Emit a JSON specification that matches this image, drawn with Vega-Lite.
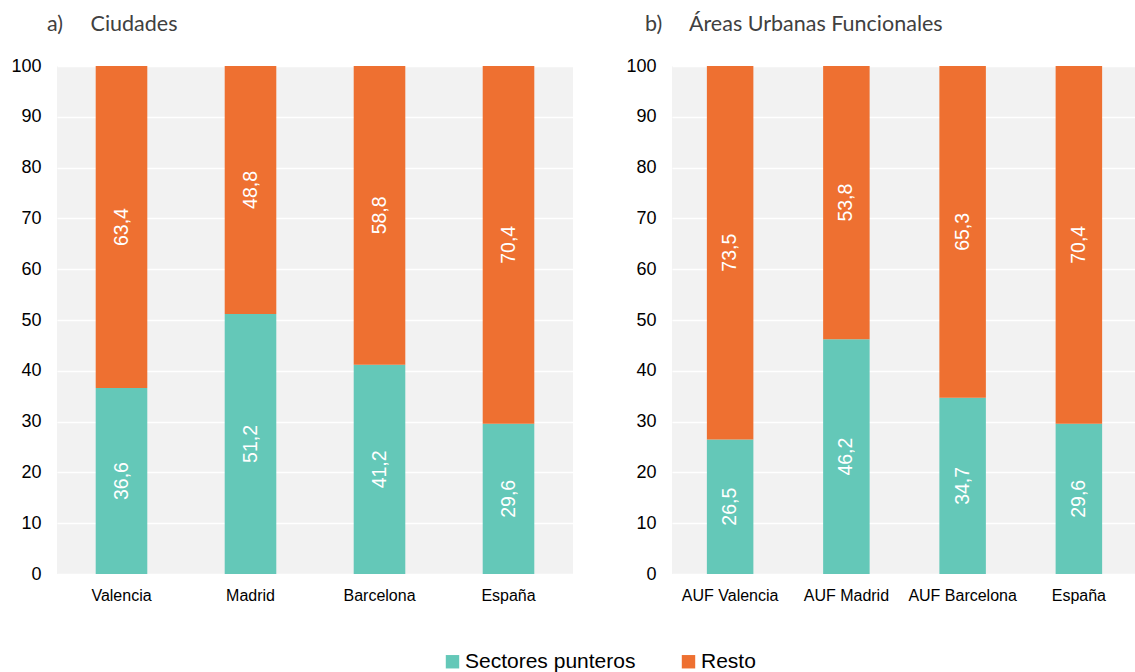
{
  "$schema": "https://vega.github.io/schema/vega-lite/v6.json",
  "padding": {"left": 10, "top": 13, "right": 0, "bottom": 5},
  "background": "white",
  "config": {
    "locale": {"number": {"decimal": ",", "thousands": ".", "grouping": [3], "currency": ["", " €"]}},
    "view": {"fill": "#F2F2F2", "stroke": null},
    "axis": {"labelFont": "Liberation Sans", "domain": false, "ticks": false, "tickSize": 0, "labelColor": "#000000"},
    "axisY": {"grid": true, "gridColor": "#FFFFFF", "gridWidth": 1.5, "labelFontSize": 18, "labelPadding": 16, "values": [0, 10, 20, 30, 40, 50, 60, 70, 80, 90, 100]},
    "axisX": {"labelFontSize": 16, "labelAngle": 0, "labelPadding": 13, "grid": false},
    "title": {"font": "Lato", "fontSize": 21.5, "fontWeight": "normal", "color": "#404040", "anchor": "start", "frame": "group"}
  },
  "datasets": {
    "d": [
      {"panel": "a", "region": "Valencia", "serie": "Sectores punteros", "value": 36.6},
      {"panel": "a", "region": "Valencia", "serie": "Resto", "value": 63.4},
      {"panel": "a", "region": "Madrid", "serie": "Sectores punteros", "value": 51.2},
      {"panel": "a", "region": "Madrid", "serie": "Resto", "value": 48.8},
      {"panel": "a", "region": "Barcelona", "serie": "Sectores punteros", "value": 41.2},
      {"panel": "a", "region": "Barcelona", "serie": "Resto", "value": 58.8},
      {"panel": "a", "region": "España", "serie": "Sectores punteros", "value": 29.6},
      {"panel": "a", "region": "España", "serie": "Resto", "value": 70.4},
      {"panel": "b", "region": "AUF Valencia", "serie": "Sectores punteros", "value": 26.5},
      {"panel": "b", "region": "AUF Valencia", "serie": "Resto", "value": 73.5},
      {"panel": "b", "region": "AUF Madrid", "serie": "Sectores punteros", "value": 46.2},
      {"panel": "b", "region": "AUF Madrid", "serie": "Resto", "value": 53.8},
      {"panel": "b", "region": "AUF Barcelona", "serie": "Sectores punteros", "value": 34.7},
      {"panel": "b", "region": "AUF Barcelona", "serie": "Resto", "value": 65.3},
      {"panel": "b", "region": "España", "serie": "Sectores punteros", "value": 29.6},
      {"panel": "b", "region": "España", "serie": "Resto", "value": 70.4}
    ]
  },
  "resolve": {"scale": {"color": "shared"}},
  "spacing": 52,
  "hconcat": [
    {
      "width": 516,
      "height": 508,
      "title": {"text": "a)\u00a0\u00a0\u00a0\u00a0\u00a0Ciudades", "dx": -10, "offset": 22},
      "data": {"name": "d"},
      "transform": [
        {"filter": "datum.panel == 'a'"},
        {"stack": "value", "groupby": ["region"], "sort": [{"field": "serie", "order": "descending"}], "as": ["y0", "y1"]},
        {"calculate": "(datum.y0 + datum.y1) / 2", "as": "mid"}
      ],
      "encoding": {
        "x": {"field": "region", "type": "nominal", "sort": ["Valencia", "Madrid", "Barcelona", "España"], "scale": {"paddingInner": 0.6, "paddingOuter": 0.3}, "axis": {"title": null}}
      },
      "layer": [
        {
          "mark": {"type": "bar"},
          "encoding": {
            "y": {"field": "y0", "type": "quantitative", "scale": {"domain": [0, 100]}, "axis": {"title": null}},
            "y2": {"field": "y1"},
            "color": {"field": "serie", "type": "nominal", "scale": {"domain": ["Sectores punteros", "Resto"], "range": ["#64C8B8", "#EE7031"]},
              "legend": {"title": null, "orient": "none", "direction": "horizontal", "legendX": 385, "legendY": 585, "symbolType": "square", "symbolSize": 180, "symbolStrokeWidth": 0, "labelFontSize": 21, "labelFont": "Liberation Sans", "labelColor": "#000000", "labelLimit": 400, "columnPadding": 42, "labelOffset": 2}}
          }
        },
        {
          "mark": {"type": "text", "angle": 270, "color": "white", "fontSize": 19.5, "font": "Liberation Sans", "baseline": "middle", "align": "center"},
          "encoding": {
            "y": {"field": "mid", "type": "quantitative"},
            "text": {"field": "value", "type": "quantitative", "format": ".1f"}
          }
        }
      ]
    },
    {
      "width": 465,
      "height": 508,
      "title": {"text": "b)\u00a0\u00a0\u00a0\u00a0\u00a0Áreas Urbanas Funcionales", "dx": -27, "offset": 22},
      "data": {"name": "d"},
      "transform": [
        {"filter": "datum.panel == 'b'"},
        {"stack": "value", "groupby": ["region"], "sort": [{"field": "serie", "order": "descending"}], "as": ["y0", "y1"]},
        {"calculate": "(datum.y0 + datum.y1) / 2", "as": "mid"}
      ],
      "encoding": {
        "x": {"field": "region", "type": "nominal", "sort": ["AUF Valencia", "AUF Madrid", "AUF Barcelona", "España"], "scale": {"paddingInner": 0.6, "paddingOuter": 0.3}, "axis": {"title": null}}
      },
      "layer": [
        {
          "mark": {"type": "bar"},
          "encoding": {
            "y": {"field": "y0", "type": "quantitative", "scale": {"domain": [0, 100]}, "axis": {"title": null}},
            "y2": {"field": "y1"},
            "color": {"field": "serie", "type": "nominal", "scale": {"domain": ["Sectores punteros", "Resto"], "range": ["#64C8B8", "#EE7031"]}}
          }
        },
        {
          "mark": {"type": "text", "angle": 270, "color": "white", "fontSize": 19.5, "font": "Liberation Sans", "baseline": "middle", "align": "center"},
          "encoding": {
            "y": {"field": "mid", "type": "quantitative"},
            "text": {"field": "value", "type": "quantitative", "format": ".1f"}
          }
        }
      ]
    }
  ]
}
